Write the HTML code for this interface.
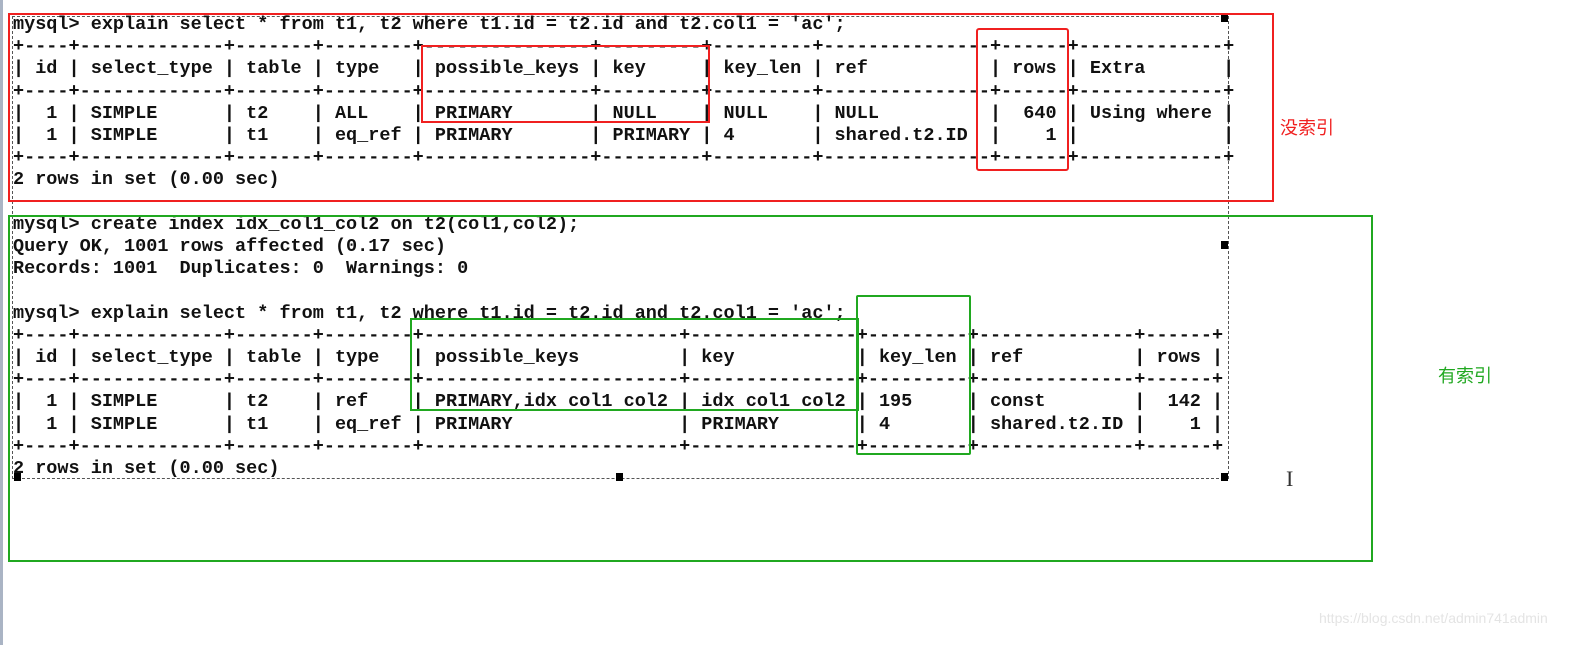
<!DOCTYPE html>
<html><head><meta charset="utf-8"><style>
html,body{margin:0;padding:0;background:#fff;width:1587px;height:645px;overflow:hidden;position:relative}
.bar{position:absolute;left:0;top:0;width:3px;height:645px;background:#aab4c4}
pre{position:absolute;left:13px;top:14px;margin:0;font-family:"Liberation Mono",monospace;font-weight:bold;font-size:18.5px;line-height:22.2px;color:#111;white-space:pre}
.b{position:absolute;box-sizing:border-box}
.h{position:absolute;width:7px;height:8px;background:#000}
.lbl{position:absolute;font-family:"Liberation Sans","Noto Sans CJK SC",sans-serif;font-size:18px}
</style></head><body>
<div class="bar"></div>
<div class="b" style="left:12px;top:16px;width:1217px;height:463px;border:1px dashed #555"></div>
<pre>mysql&gt; explain select * from t1, t2 where t1.id = t2.id and t2.col1 = 'ac';
+----+-------------+-------+--------+---------------+---------+---------+---------------+------+-------------+
| id | select_type | table | type   | possible_keys | key     | key_len | ref           | rows | Extra       |
+----+-------------+-------+--------+---------------+---------+---------+---------------+------+-------------+
|  1 | SIMPLE      | t2    | ALL    | PRIMARY       | NULL    | NULL    | NULL          |  640 | Using where |
|  1 | SIMPLE      | t1    | eq_ref | PRIMARY       | PRIMARY | 4       | shared.t2.ID  |    1 |             |
+----+-------------+-------+--------+---------------+---------+---------+---------------+------+-------------+
2 rows in set (0.00 sec)

mysql&gt; create index idx_col1_col2 on t2(col1,col2);
Query OK, 1001 rows affected (0.17 sec)
Records: 1001  Duplicates: 0  Warnings: 0

mysql&gt; explain select * from t1, t2 where t1.id = t2.id and t2.col1 = 'ac';
+----+-------------+-------+--------+-----------------------+---------------+---------+--------------+------+
| id | select_type | table | type   | possible_keys         | key           | key_len | ref          | rows |
+----+-------------+-------+--------+-----------------------+---------------+---------+--------------+------+
|  1 | SIMPLE      | t2    | ref    | PRIMARY,idx col1 col2 | idx col1 col2 | 195     | const        |  142 |
|  1 | SIMPLE      | t1    | eq_ref | PRIMARY               | PRIMARY       | 4       | shared.t2.ID |    1 |
+----+-------------+-------+--------+-----------------------+---------------+---------+--------------+------+
2 rows in set (0.00 sec)</pre>
<div class="h" style="left:1221px;top:14px"></div>
<div class="h" style="left:1221px;top:241px"></div>
<div class="h" style="left:1221px;top:473px"></div>
<div class="h" style="left:616px;top:473px"></div>
<div class="h" style="left:14px;top:473px"></div>
<div class="b" style="left:8px;top:13px;width:1266px;height:189px;border:2px solid #f02020"></div>
<div class="b" style="left:421px;top:45px;width:289px;height:78px;border:2px solid #f02020"></div>
<div class="b" style="left:976px;top:28px;width:93px;height:143px;border:2px solid #f02020;border-radius:3px"></div>
<div class="b" style="left:8px;top:215px;width:1365px;height:347px;border:2px solid #20a820"></div>
<div class="b" style="left:410px;top:318px;width:449px;height:93px;border:2px solid #20a820"></div>
<div class="b" style="left:856px;top:295px;width:115px;height:160px;border:2px solid #20a820;border-radius:2px"></div>
<div class="lbl" style="left:1280px;top:114px;color:#f02020">没索引</div>
<div class="lbl" style="left:1438px;top:362px;color:#20a820">有索引</div>
<div class="lbl" style="left:1286px;top:466px;font-size:22px;color:#333;font-family:'Liberation Serif',serif">I</div>
<div class="lbl" style="left:1319px;top:610px;font-size:14px;color:#e4e4e4">https://blog.csdn.net/admin741admin</div>
</body></html>
